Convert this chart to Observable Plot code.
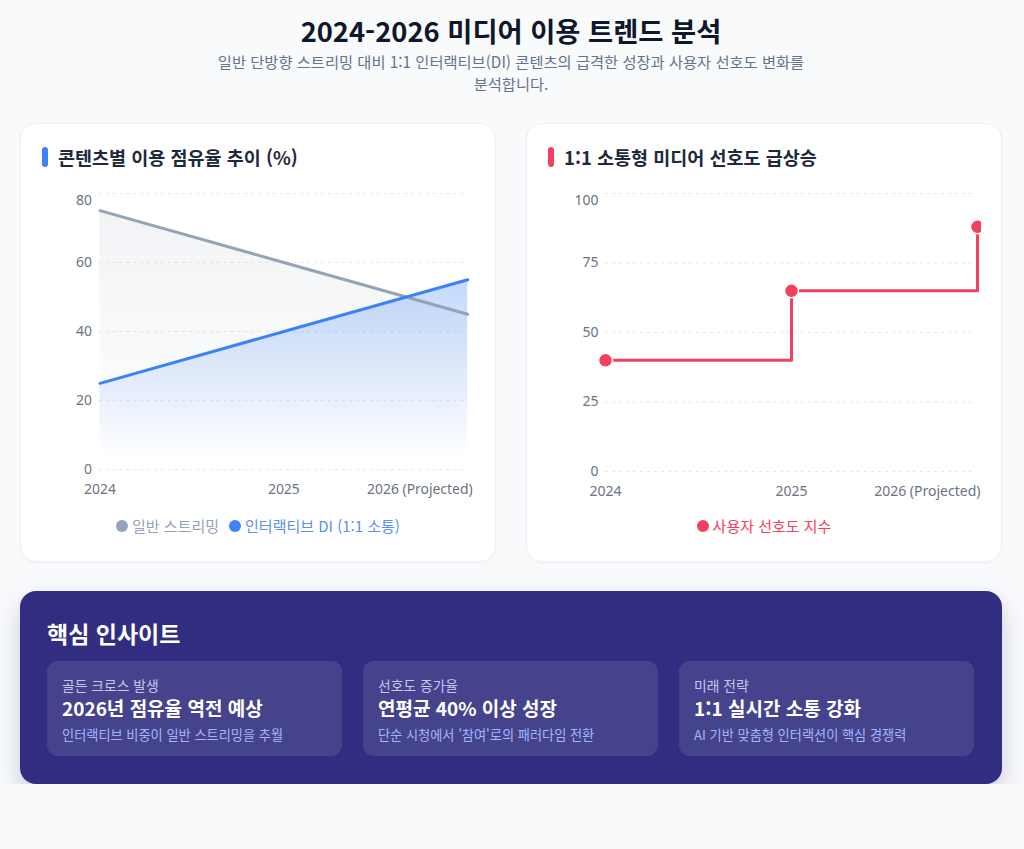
<!DOCTYPE html>
<html lang="ko">
<head>
<meta charset="utf-8">
<script src="https://cdn.jsdelivr.net/npm/d3@7"></script>
<script src="https://cdn.jsdelivr.net/npm/@observablehq/plot@0.6"></script>
<style>
  * { box-sizing: border-box; }
  body { margin: 0; background: #f8fafc; font-family: "Noto Sans CJK KR", "Noto Sans", sans-serif; color: #1e293b; }
  .wrap { margin-left: 20px; width: 982px; }
  h1 { margin: 13px 0 0; font-size: 27.3px; line-height: 34px; font-weight: 700; text-align: center; color: #0f172a; }
  .sub { margin: 3px auto 0; font-size: 15.3px; line-height: 22px; color: #64748b; text-align: center; width: 700px; }
  .cards { display: flex; gap: 30px; margin-top: 29px; }
  .card { position: relative; width: 476px; height: 439px; background: #fff; border-radius: 16px; border: 1px solid #eef2f6; box-shadow: 0 1px 3px rgba(15,23,42,0.04); }
  .card h2 { position: absolute; left: 21px; top: 23px; margin: 0; height: 20px; display: flex; align-items: center; font-size: 18.5px; font-weight: 700; color: #1e293b; white-space: nowrap; }
  .card h2 .bar { display: inline-block; width: 6px; height: 20px; border-radius: 3px; margin-right: 10px; }
  .card .chart { position: absolute; left: -1px; top: 56px; }
  .card .chart svg { overflow: hidden; }
  .legend { position: absolute; left: 0; right: 0; top: 392px; display: flex; justify-content: center; gap: 10px; font-size: 15px; line-height: 20px; }
  .legend span.item { display: flex; align-items: center; }
  .legend i { display: inline-block; width: 12px; height: 12px; border-radius: 50%; margin-right: 4px; }
  .insight { margin-top: 29px; height: 193px; background: #312e81; border-radius: 16px; padding: 28px 27px; box-shadow: 0 12px 24px rgba(49,46,129,0.22); }
  .insight h3 { margin: 0; font-size: 23px; line-height: 28px; font-weight: 700; color: #fff; }
  .boxes { display: flex; gap: 21px; margin-top: 14px; }
  .box { width: 295px; height: 95px; background: rgba(255,255,255,0.1); border-radius: 11px; padding: 16px 15px; white-space: nowrap; }
  .box .lab { font-size: 13.8px; line-height: 16px; color: #c3c6f0; }
  .box .main { margin-top: 3px; font-size: 19px; line-height: 24px; font-weight: 700; color: #fff; }
  .box .desc { margin-top: 7px; font-size: 13.2px; line-height: 16px; color: #a5b4fc; }
</style>
</head>
<body>
<div class="wrap">
  <h1>2024-2026 미디어 이용 트렌드 분석</h1>
  <div class="sub">일반 단방향 스트리밍 대비 1:1 인터랙티브(DI) 콘텐츠의 급격한 성장과 사용자 선호도 변화를<br>분석합니다.</div>
  <div class="cards">
    <div class="card">
      <h2><span class="bar" style="background:#3b82f6"></span>콘텐츠별 이용 점유율 추이 (%)</h2>
      <div class="chart" id="c1"></div>
      <div class="legend">
        <span class="item" style="color:#94a3b8"><i style="background:#94a3b8"></i>일반 스트리밍</span>
        <span class="item" style="color:#5b8ef2"><i style="background:#3b82f6"></i>인터랙티브 DI (1:1 소통)</span>
      </div>
    </div>
    <div class="card">
      <h2><span class="bar" style="background:#f43f5e"></span>1:1 소통형 미디어 선호도 급상승</h2>
      <div class="chart" id="c2"></div>
      <div class="legend">
        <span class="item" style="color:#f43f5e"><i style="background:#f43f5e"></i>사용자 선호도 지수</span>
      </div>
    </div>
  </div>
  <div class="insight">
    <h3>핵심 인사이트</h3>
    <div class="boxes">
      <div class="box"><div class="lab">골든 크로스 발생</div><div class="main">2026년 점유율 역전 예상</div><div class="desc">인터랙티브 비중이 일반 스트리밍을 추월</div></div>
      <div class="box"><div class="lab">선호도 증가율</div><div class="main">연평균 40% 이상 성장</div><div class="desc">단순 시청에서 '참여'로의 패러다임 전환</div></div>
      <div class="box"><div class="lab">미래 전략</div><div class="main">1:1 실시간 소통 강화</div><div class="desc">AI 기반 맞춤형 인터랙션이 핵심 경쟁력</div></div>
    </div>
  </div>
</div>
<script>
const years = ["2024", "2025", "2026 (Projected)"];
const streaming = [75, 60, 45];
const interactive = [25, 40, 55];
const preference = [40, 65, 88];
const shareTicks = [0, 20, 40, 60, 80];
const prefTicks = [0, 25, 50, 75, 100];

const shareData = years.map((y, i) => ({year: y, streaming: streaming[i], interactive: interactive[i]}));
const prefData = years.map((y, i) => ({year: y, value: preference[i]}));

const H = 321, MT = 13, MB = 30;
const font = {fontFamily: "'Noto Sans', 'Noto Sans CJK KR', sans-serif", fontSize: "14px", color: "#6b7280", background: "transparent", overflow: "hidden"};

function gradDefs(specs) {
  return () => {
    const defs = d3.create("svg:defs");
    for (const s of specs) {
      const g = defs.append("linearGradient").attr("id", s.id)
        .attr("gradientUnits", "userSpaceOnUse")
        .attr("x1", 0).attr("x2", 0).attr("y1", MT).attr("y2", H - MB);
      for (const [off, op] of s.stops) {
        g.append("stop").attr("offset", off).attr("stop-color", s.color).attr("stop-opacity", op);
      }
    }
    return defs.node();
  };
}

function axes(ticks, dxLast) {
  return [
    Plot.axisY({ticks: ticks.slice(0, -1), tickSize: 0, tickPadding: 7, label: null}),
    Plot.axisY({ticks: ticks.slice(-1), tickSize: 0, tickPadding: 7, dy: 7, label: null}),
    Plot.axisX({ticks: years.slice(0, 2), tickSize: 0, tickPadding: 15, label: null}),
    Plot.axisX({ticks: years.slice(2), tickSize: 0, tickPadding: 15, textAnchor: "end", dx: dxLast, label: null})
  ];
}

const c1 = Plot.plot({
  width: 478, height: H, marginLeft: 79, marginRight: 28, marginTop: MT, marginBottom: MB,
  style: font,
  x: {type: "point", domain: years, padding: 0},
  y: {domain: [0, 80]},
  marks: [
    gradDefs([
      {id: "gGrey", color: "#94a3b8", stops: [[0, 0.14], [0.95, 0]]},
      {id: "gBlue", color: "#3b82f6", stops: [[0, 0.45], [0.95, 0]]}
    ]),
    Plot.gridY(shareTicks, {stroke: "#e5e7eb", strokeOpacity: 1, strokeDasharray: "3,4"}),
    Plot.areaY(shareData, {x: "year", y: "streaming", fill: "url(#gGrey)"}),
    Plot.areaY(shareData, {x: "year", y: "interactive", fill: "url(#gBlue)"}),
    Plot.lineY(shareData, {x: "year", y: "streaming", stroke: "#94a3b8", strokeWidth: 3}),
    Plot.lineY(shareData, {x: "year", y: "interactive", stroke: "#3b82f6", strokeWidth: 3}),
    ...axes(shareTicks, 5)
  ]
});
document.getElementById("c1").append(c1);

const c2 = Plot.plot({
  width: 455, height: H, marginLeft: 79, marginRight: 4, marginTop: MT, marginBottom: MB,
  style: font,
  x: {type: "point", domain: years, padding: 0},
  y: {domain: [0, 100]},
  marks: [
    Plot.gridY(prefTicks, {stroke: "#e5e7eb", strokeOpacity: 1, strokeDasharray: "3,4"}),
    Plot.lineY(prefData, {x: "year", y: "value", curve: "step-after", stroke: "#f43f5e", strokeWidth: 3}),
    Plot.dot(prefData, {x: "year", y: "value", r: 7, fill: "#f43f5e", stroke: "#fff", strokeWidth: 1.5}),
    ...axes(prefTicks, 3)
  ]
});
document.getElementById("c2").append(c2);
</script>
</body>
</html>
